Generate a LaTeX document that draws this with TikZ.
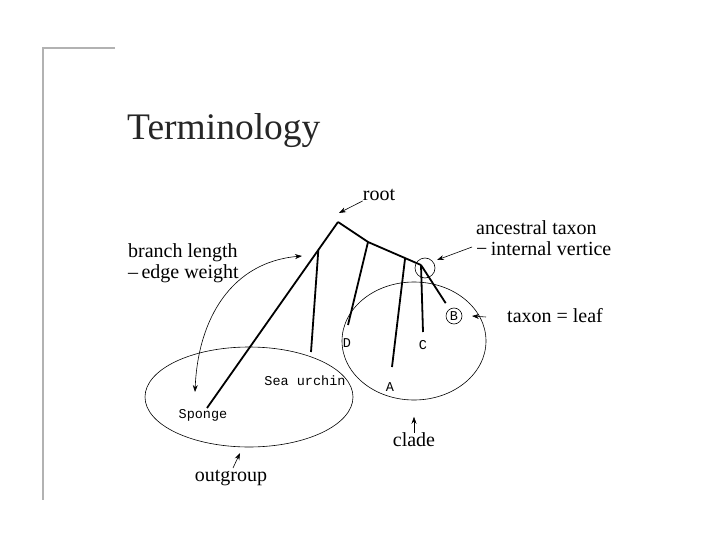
\documentclass[tikz,border=0pt]{standalone}
\usepackage{fontspec}
\setmainfont{Liberation Serif}
\setmonofont{Liberation Mono}
\usetikzlibrary{arrows.meta,shapes.geometric}

\tikzset{
  branch/.style={line width=1.8pt},
  ring/.style={draw,line width=0.6pt},
  pointer/.style={line width=0.6pt,-{Stealth[length=7pt,width=5pt]}},
  term/.style={font=\fontsize{20}{22}\selectfont,inner sep=0pt,align=left},
  taxon/.style={font=\ttfamily\fontsize{13.5}{13.5}\selectfont,inner sep=0pt}
}

\begin{document}
\begin{tikzpicture}[x=1pt,y=-1pt]
    \useasboundingbox (0,0) rectangle (720,540);
    % slide frame and title
    \draw[gray!60,line width=2.5pt] (115,48) -- (43,48) -- (43,500);
    \node[anchor=base west,inner sep=0pt,font=\fontsize{37.5}{40}\selectfont,text=black!85] (title) at (127,140) {Terminology};

    % tree vertices
    \coordinate (root) at (338,222);
    \coordinate (sponge tip) at (207,408);
    \path (root) -- (sponge tip) coordinate[pos=0.15] (outsplit);
    \coordinate (urchin tip) at (311,352);
    \coordinate (dsplit) at (368,242);
    \coordinate (anc) at (421,265);
    \path (dsplit) -- (anc) coordinate[pos=0.7] (asplit);
    \coordinate (d tip) at (348,325);
    \coordinate (a tip) at (392,367);
    \coordinate (c tip) at (423,332);

    % leaf labels
    \node[taxon] (sponge) at (203,415) {Sponge};
    \node[taxon] (urchin) at (305,381) {Sea urchin};
    \node[taxon] (D) at (347,343) {D};
    \node[taxon] (C) at (423,345) {C};
    \node[taxon] (A) at (390,387) {A};
    \node[taxon,ring,circle,minimum size=16pt] (B) at (454,316) {B};

    % branches
    \draw[branch] (root) -- (sponge tip);
    \draw[branch] (outsplit) -- (urchin tip);
    \draw[branch] (root) -- (dsplit) -- (anc);
    \draw[branch,shorten >=7pt] (anc) -- (B);
    \draw[branch] (dsplit) -- (d tip);
    \draw[branch] (asplit) -- (a tip);
    \draw[branch] (anc) -- (c tip);

    % groups
    \node[ring,circle,minimum size=20pt] (anc ring) at (425,268) {};
    \node[ring,ellipse,minimum width=144pt,minimum height=118pt] (clade ring) at (414,341) {};
    \node[ring,ellipse,minimum width=208pt,minimum height=100pt] (outgroup ring) at (249,397) {};

    % terms
    \node[term] (root label) at (379,195) {root};
    \node[term,anchor=west] (anc label) at (476,238) {ancestral taxon\\[-1pt]−\,internal vertice};
    \node[term,anchor=west] (leaf label) at (507,316) {taxon = leaf};
    \node[term,anchor=west] (length label) at (128,263) {branch length\\[-1pt]–\,edge weight};
    \node[term] (clade) at (414,440) {clade};
    \node[term] (outgroup) at (231,478) {outgroup};

    % pointers
    \coordinate (root tip) at (339,213);
    \coordinate (anc tip) at (437,260);
    \coordinate (leaf tip) at (472,316);
    \coordinate (length tip) at (302,256);
    \coordinate (sponge arrow tip) at (195,392);
    \coordinate (outgroup tip) at (240,453);
    \draw[pointer] (root label.south west) -- (root tip);
    \draw[pointer] (472,247) -- (anc tip);
    \draw[pointer] (486,317) -- (leaf tip);
    \draw[pointer,{Stealth[length=7pt,width=5pt]}-{Stealth[length=7pt,width=5pt]}] (sponge arrow tip) .. controls (198,318) and (232,262) .. (length tip);
    \draw[pointer] (clade.north) -- ++(0,-16);
    \draw[pointer] (outgroup.north) ++(2,-2) -- (outgroup tip);
\end{tikzpicture}
\end{document}
